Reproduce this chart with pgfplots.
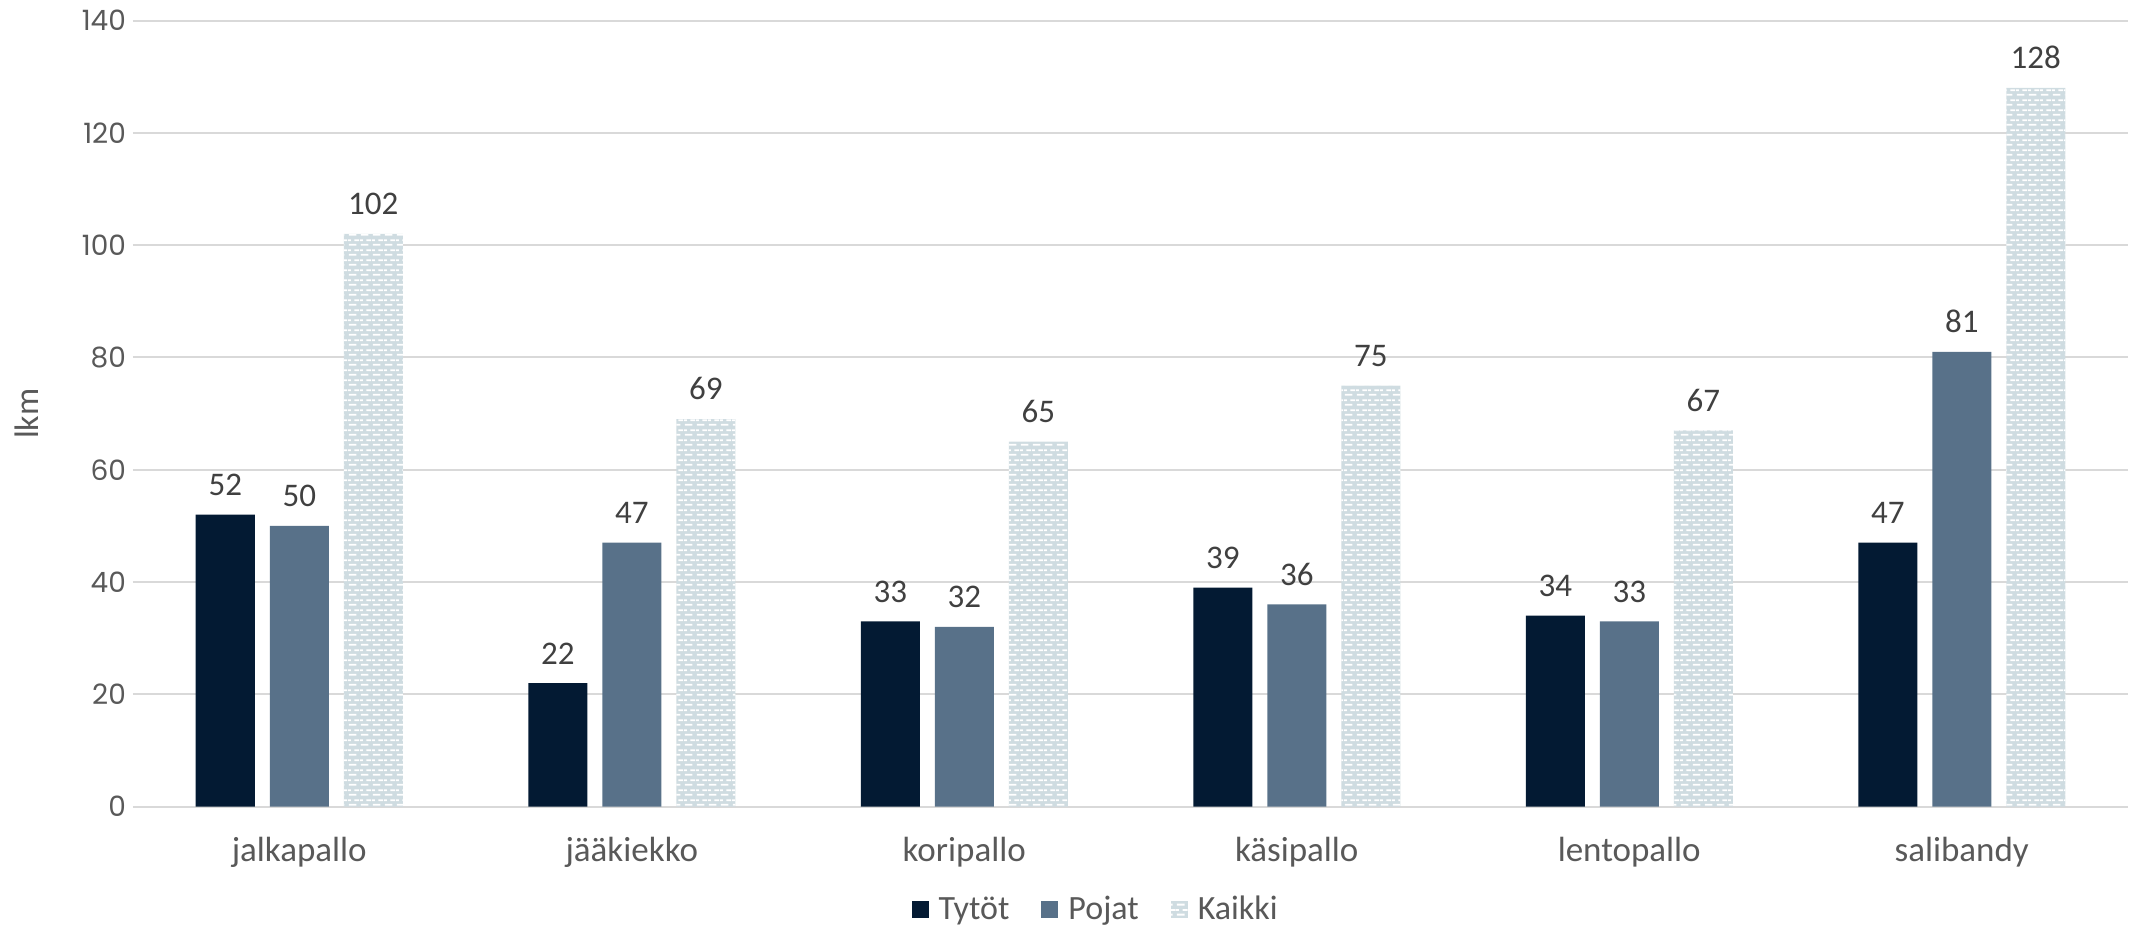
\documentclass[border=0pt]{standalone}
\usepackage{fontspec}
\setmainfont{Carlito}
\newfontfamily\yfont{Poppins}
\usepackage{pgfplots}
\pgfplotsset{compat=1.18}
\usetikzlibrary{patterns}
\definecolor{tytot}{HTML}{031A33}
\definecolor{pojat}{HTML}{587189}
\definecolor{kaikki}{HTML}{CFDCE1}
\definecolor{txt}{HTML}{595959}
\definecolor{lbl}{HTML}{404040}
\definecolor{gridc}{HTML}{D9D9D9}
\pgfdeclarepatternformonly{mybricks}{\pgfpointorigin}{\pgfpoint{6pt}{5pt}}{\pgfpoint{6pt}{5pt}}{%
  \pgfpathrectangle{\pgfpoint{0.5pt}{0.75pt}}{\pgfpoint{4pt}{1pt}}%
  \pgfpathrectangle{\pgfpoint{3.5pt}{3.25pt}}{\pgfpoint{2.5pt}{1pt}}%
  \pgfpathrectangle{\pgfpoint{0pt}{3.25pt}}{\pgfpoint{1.5pt}{1pt}}%
  \pgfusepath{fill}%
}
\begin{document}
\begin{tikzpicture}
\useasboundingbox (-66.5pt,-60pt) rectangle (1011pt,403.3pt);
\begin{axis}[
  scale only axis,
  width=997.5pt, height=393pt,
  xmin=-0.5, xmax=5.5,
  ymin=0, ymax=140,
  ytick={0,20,...,140},
  xtick={0,1,2,3,4,5},
  xticklabels={jalkapallo,jääkiekko,koripallo,käsipallo,lentopallo,salibandy},
  axis y line*=left,
  y axis line style={draw=none},
  axis x line*=bottom,
  x axis line style={draw=gridc, line width=1pt, -},
  ymajorgrids, grid style={draw=gridc, line width=1pt},
  major tick length=0pt,
  tick style={draw=none},
  /pgf/number format/assume math mode=true,
  xticklabel style={font=\fontsize{17.5}{20}\selectfont, text=txt, yshift=-12pt},
  yticklabel style={font=\yfont\fontsize{14}{17}\selectfont, text=txt},
  ylabel={lkm},
  every axis y label/.style={at={(axis description cs:-0.0531,0.5)}, anchor=center, rotate=90, font=\fontsize{17}{20}\selectfont, text=txt},
  ybar, bar width=29.5pt,
  nodes near coords,
  every node near coord/.append style={font=\fontsize{16.5}{19}\selectfont, text=lbl, yshift=6pt},
  legend style={at={(0.483,-0.131)}, anchor=center, draw=none, legend columns=-1,
    font=\fontsize{17}{20}\selectfont, text=txt,
    /tikz/every odd column/.append style={column sep=3pt},
    /tikz/every even column/.append style={column sep=14pt}},
  legend image code/.code={\path[#1, draw=none] (0pt,-4.25pt) rectangle (8.5pt,4.25pt);},
]
\addplot[draw=none, fill=tytot, bar shift=-37pt] coordinates {(0,52) (1,22) (2,33) (3,39) (4,34) (5,47)};
\addplot[draw=none, fill=pojat, bar shift=0pt] coordinates {(0,50) (1,47) (2,32) (3,36) (4,33) (5,81)};
\addplot[draw=none, fill=kaikki, postaction={pattern=mybricks, pattern color=white}, bar shift=37pt] coordinates {(0,102) (1,69) (2,65) (3,75) (4,67) (5,128)};
\legend{Tytöt, Pojat, Kaikki}
\end{axis}
\end{tikzpicture}
\end{document}
